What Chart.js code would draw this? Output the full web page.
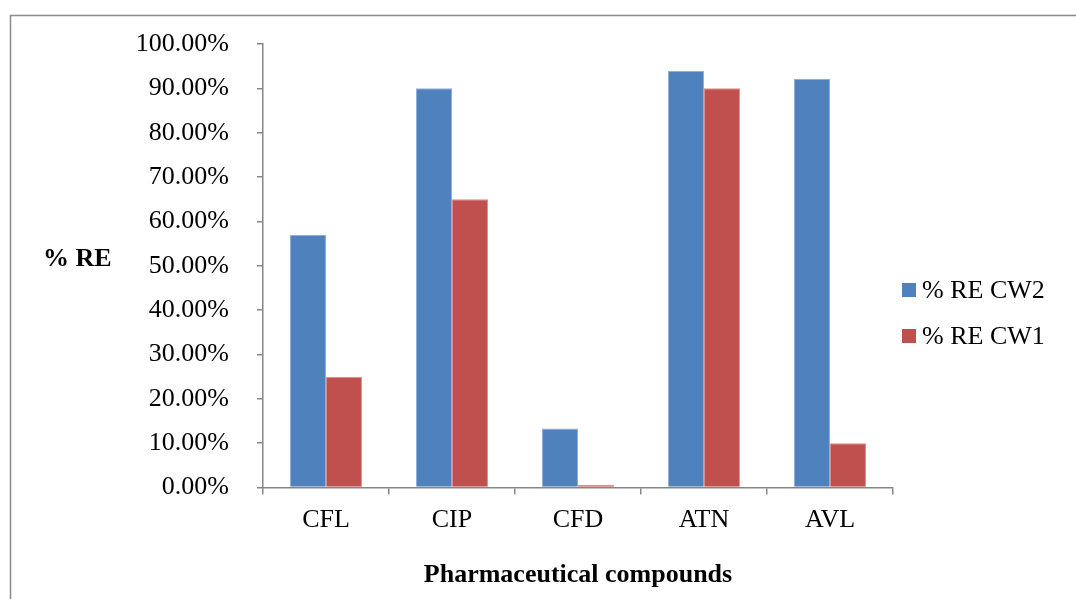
<!DOCTYPE html>
<html>
<head>
<meta charset="utf-8">
<script src="https://cdn.jsdelivr.net/npm/chart.js@4.4.1/dist/chart.umd.min.js"></script>
<style>
  html, body { margin: 0; padding: 0; background: #fff; overflow: hidden; }
  #wrap { position: relative; width: 1076px; height: 599px; }
</style>
</head>
<body>
<div id="wrap"><canvas id="c" width="1076" height="599"></canvas></div>
<script>
const categories = ["CFL", "CIP", "CFD", "ATN", "AVL"];
const seriesNames = ["% RE CW2", "% RE CW1"];
const cw2Values = [57.0, 90.0, 13.3, 93.9, 92.1];
const cw1Values = [25.0, 65.0, 0.6, 90.0, 10.0];
const yTitle = "% RE";
const xTitle = "Pharmaceutical compounds";
const yMin = 0, yMax = 100, yStep = 10;

const SERIF = "'Liberation Serif', 'Times New Roman', serif";
const colors = ["#4F81BD", "#C0504D"];
const edgeColors = ["#8FAFD9", "#D98E8C"];

const framePlugin = {
  id: 'frame',
  beforeDraw(chart) {
    const ctx = chart.ctx;
    ctx.save();
    ctx.fillStyle = '#ffffff';
    ctx.fillRect(0, 0, chart.width, chart.height);
    ctx.strokeStyle = '#8a8a8a';
    ctx.lineWidth = 1.5;
    ctx.strokeRect(10.5, 15.5, 2000, 2000);
    ctx.restore();
  },
  afterDraw(chart) {
    const ctx = chart.ctx;
    const area = chart.chartArea;
    ctx.save();
    // y-axis title (horizontal)
    ctx.font = "bold 26px " + SERIF;
    ctx.fillStyle = '#000';
    ctx.textAlign = 'left';
    ctx.textBaseline = 'middle';
    ctx.fillText(yTitle, 43, 259);
    // legend
    ctx.font = "26px " + SERIF;
    const items = chart.data.datasets;
    const ys = [290, 336];
    items.forEach((ds, i) => {
      ctx.fillStyle = ds.backgroundColor;
      ctx.fillRect(902, ys[i] - 7, 14, 14);
      ctx.fillStyle = '#000';
      ctx.textBaseline = 'middle';
      ctx.fillText(ds.label, 922, ys[i] + 1);
    });
    ctx.restore();
  }
};

new Chart(document.getElementById('c'), {
  type: 'bar',
  data: {
    labels: categories,
    datasets: [
      { label: seriesNames[0], data: cw2Values, backgroundColor: colors[0], borderColor: edgeColors[0], borderWidth: 1 },
      { label: seriesNames[1], data: cw1Values, backgroundColor: colors[1], borderColor: edgeColors[1], borderWidth: 1 }
    ]
  },
  options: {
    responsive: false,
    animation: false,
    devicePixelRatio: 1,
    layout: { padding: { top: 44, right: 183, bottom: 0, left: 0 } },
    datasets: { bar: { barPercentage: 1.0, categoryPercentage: 0.571 } },
    plugins: {
      legend: { display: false },
      tooltip: { enabled: false },
      title: { display: false }
    },
    scales: {
      x: {
        afterFit(scale) { scale.height = 111.5; },
        grid: { display: true, drawOnChartArea: false, drawTicks: true, tickLength: 7, color: '#868686', lineWidth: 1.5, offset: true },
        border: { display: true, color: '#868686', width: 1.5 },
        ticks: { color: '#000', font: { family: SERIF, size: 26 }, padding: 10, maxRotation: 0 },
        title: { display: true, text: xTitle, color: '#000', font: { family: SERIF, size: 26, weight: 'bold' }, padding: { top: 0, bottom: 8 } }
      },
      y: {
        min: yMin, max: yMax,
        afterFit(scale) { scale.width = 263; },
        grid: { display: true, drawOnChartArea: false, drawTicks: true, tickLength: 6, color: '#868686', lineWidth: 1.5 },
        border: { display: true, color: '#868686', width: 1.5 },
        ticks: {
          stepSize: yStep,
          color: '#000',
          font: { family: SERIF, size: 26 },
          padding: 28,
          callback: v => v.toFixed(2) + '%'
        }
      }
    }
  },
  plugins: [framePlugin]
});
</script>
</body>
</html>
